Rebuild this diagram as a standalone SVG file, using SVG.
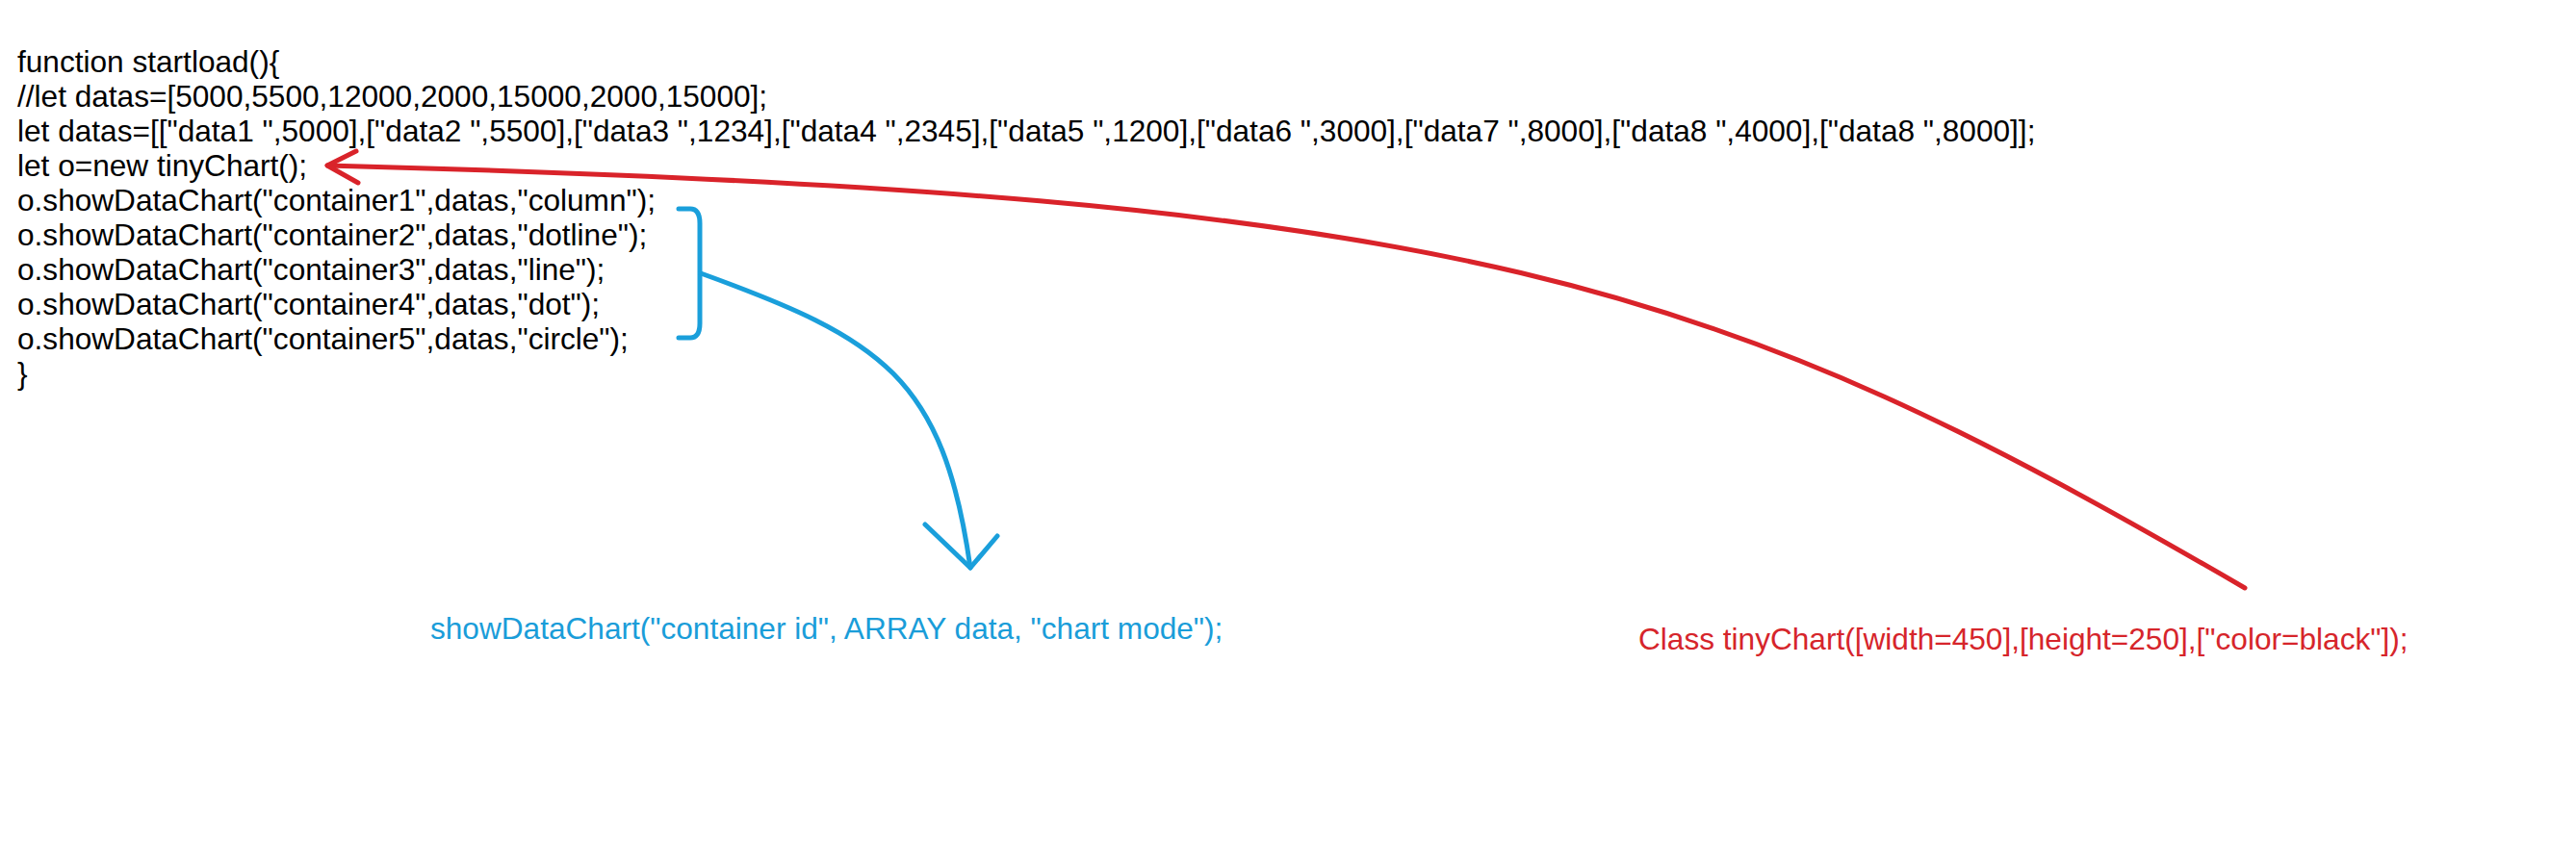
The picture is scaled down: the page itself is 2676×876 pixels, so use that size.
<svg xmlns="http://www.w3.org/2000/svg" width="2676" height="876" viewBox="0 0 2676 876">
<style>
  .code { font-family: "Liberation Sans", Arial, sans-serif; font-size: 31.6px; fill: #000; }
  .blue { font-family: "Liberation Sans", Arial, sans-serif; font-size: 31.6px; fill: #1a9dd9; }
  .red { font-family: "Liberation Sans", Arial, sans-serif; font-size: 31.6px; fill: #d6252b; }
  .bstroke { fill: none; stroke: #1a9fdb; stroke-width: 5; stroke-linecap: round; stroke-linejoin: round; }
  .rstroke { fill: none; stroke: #d9232a; stroke-width: 5; stroke-linecap: round; stroke-linejoin: round; }
</style>
<rect x="0" y="0" width="2676" height="876" fill="#ffffff"/>
<g id="code-block">
  <text class="code" x="18" y="75">function startload(){</text>
  <text class="code" x="18" y="111">//let datas=[5000,5500,12000,2000,15000,2000,15000];</text>
  <text class="code" x="18" y="147">let datas=[["data1 ",5000],["data2 ",5500],["data3 ",1234],["data4 ",2345],["data5 ",1200],["data6 ",3000],["data7 ",8000],["data8 ",4000],["data8 ",8000]];</text>
  <text class="code" x="18" y="183">let o=new tinyChart();</text>
  <text class="code" x="18" y="219">o.showDataChart("container1",datas,"column");</text>
  <text class="code" x="18" y="255">o.showDataChart("container2",datas,"dotline");</text>
  <text class="code" x="18" y="291">o.showDataChart("container3",datas,"line");</text>
  <text class="code" x="18" y="327">o.showDataChart("container4",datas,"dot");</text>
  <text class="code" x="18" y="363">o.showDataChart("container5",datas,"circle");</text>
  <text class="code" x="18" y="399">}</text>
</g>
<g id="showdatachart-note">
  <text class="blue" x="447" y="664">showDataChart("container id", ARRAY data, "chart mode");</text>
</g>
<g id="class-note">
  <text class="red" x="1702" y="675">Class tinyChart([width=450],[height=250],["color=black"]);</text>
</g>
<g id="connectors">
  <path id="bracket" class="bstroke" d="M705,217 L717,217 Q727,217 727,232 L727,336 Q727,351 717,351 L705,351"/>
  <path id="blue-arrow" class="bstroke" d="M728,284 C916,352 980,392 1008,590"/>
  <path id="blue-head" class="bstroke" d="M961,545 L1008,590 L1036,557"/>
  <path id="red-arrow" class="rstroke" d="M340,172 C1540,203 1782,292 2332,611"/>
  <path id="red-head" class="rstroke" d="M370,157 L340,172 L372,190"/>
</g>
</svg>
